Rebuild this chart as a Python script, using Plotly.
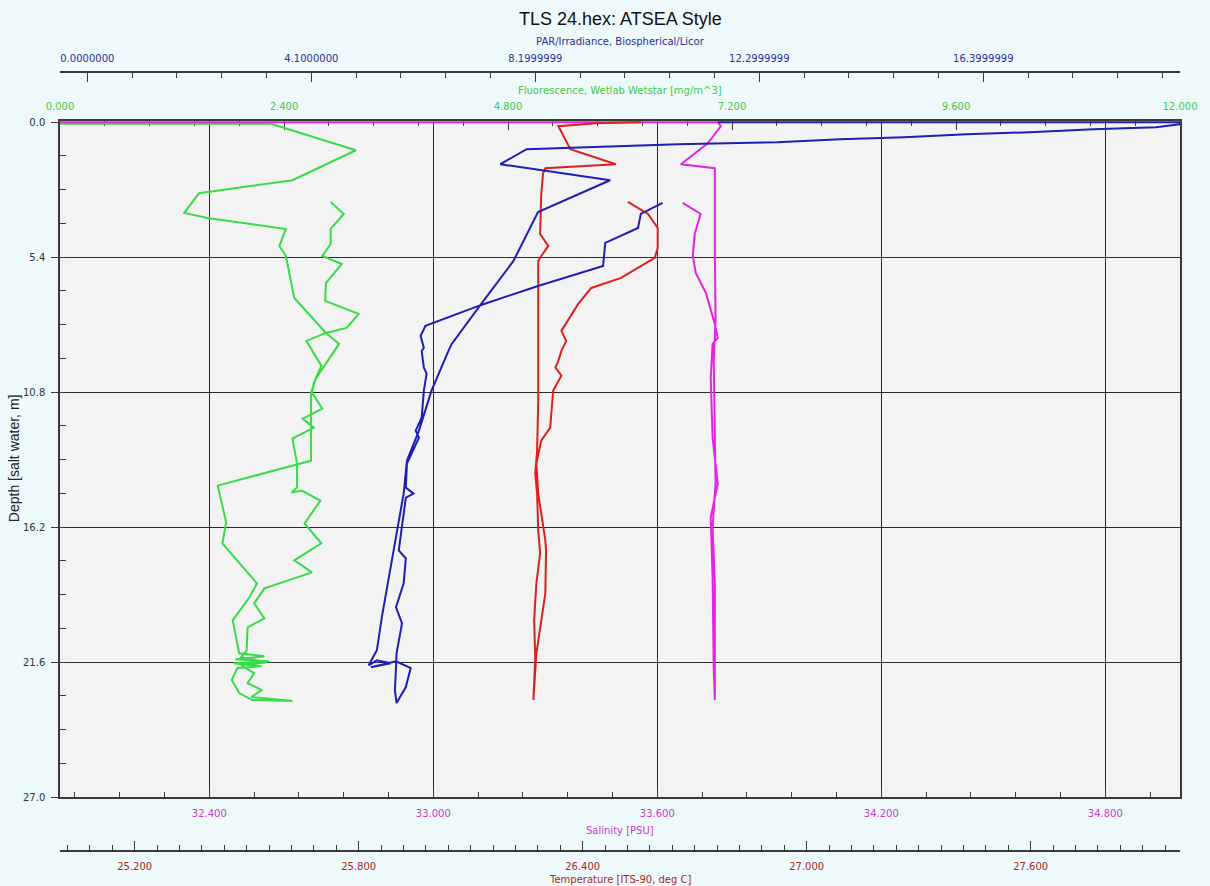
import plotly.graph_objects as go

# ---------------- data ----------------
# (depth [m], value) pairs, downcast then upcast
fluorescence = [
    (0.06, 0.00), (0.06, 2.26), (0.20, 2.38), (1.12, 3.17), (2.32, 2.49), (2.84, 1.49),
    (3.63, 1.33), (3.83, 1.58), (4.27, 2.42), (4.95, 2.35), (5.35, 2.42), (7.03, 2.51),
    (8.43, 2.85), (8.87, 2.99), (9.15, 2.94), (10.26, 2.74), (10.82, 2.69), (13.54, 2.69),
    (14.54, 1.69), (16.01, 1.78), (16.85, 1.74), (18.45, 2.11), (19.01, 2.03), (19.93, 1.85),
    (21.25, 1.92), (21.37, 2.19), (21.49, 1.88), (21.57, 2.24), (21.65, 1.86), (21.77, 2.16),
    (21.84, 1.90), (22.32, 1.84), (22.84, 1.92), (23.12, 2.06), (23.16, 2.49), (23.00, 2.05),
    (22.72, 2.16), (22.44, 2.01), (22.04, 2.08), (21.73, 1.94), (21.61, 2.22), (21.41, 1.94),
    (21.13, 2.00), (20.21, 2.01), (19.85, 2.19), (19.25, 2.08), (18.65, 2.19), (18.01, 2.70),
    (17.53, 2.51), (16.85, 2.80), (16.05, 2.62), (15.14, 2.79), (14.74, 2.59), (14.82, 2.48),
    (14.62, 2.54), (13.66, 2.54), (12.66, 2.49), (12.22, 2.72), (11.86, 2.60), (11.46, 2.81),
    (10.82, 2.70), (10.42, 2.72), (9.74, 2.80), (9.15, 2.70), (8.75, 2.64), (8.43, 2.85),
    (8.23, 3.07), (7.67, 3.20), (7.15, 2.84), (6.43, 2.85), (5.67, 3.02), (5.35, 2.81),
    (4.87, 2.90), (4.27, 2.90), (3.67, 3.04), (3.19, 2.90),
]

salinity = [
    (0.00, 32.000), (0.00, 33.762), (0.16, 33.770), (0.84, 33.735), (1.68, 33.663),
    (1.84, 33.754), (5.15, 33.754), (7.95, 33.756), (9.54, 33.751), (12.46, 33.754),
    (14.46, 33.756), (16.21, 33.748), (18.45, 33.754), (21.65, 33.754), (23.12, 33.754),
    (21.81, 33.751), (18.21, 33.748), (15.81, 33.743), (14.46, 33.762), (12.62, 33.748),
    (10.22, 33.743), (8.87, 33.748), (8.63, 33.762), (8.07, 33.754), (6.83, 33.730),
    (6.03, 33.703), (5.35, 33.695), (4.47, 33.700), (3.67, 33.716), (3.23, 33.668),
]

temperature = [
    (0.00, 26.556), (0.04, 26.436), (0.16, 26.335), (1.08, 26.367), (1.68, 26.489),
    (1.84, 26.300), (2.04, 26.294), (2.88, 26.289), (4.47, 26.286), (4.95, 26.308),
    (5.35, 26.289), (5.55, 26.281), (9.15, 26.281), (11.14, 26.281), (13.14, 26.278),
    (14.06, 26.273), (14.86, 26.278), (16.33, 26.281), (17.25, 26.286), (18.45, 26.276),
    (19.93, 26.270), (21.41, 26.273), (23.12, 26.268), (21.25, 26.276), (18.85, 26.300),
    (17.13, 26.302), (16.73, 26.300), (14.86, 26.281), (13.66, 26.276), (12.74, 26.289),
    (12.22, 26.313), (10.74, 26.321), (10.14, 26.343), (9.82, 26.327), (9.54, 26.335),
    (9.15, 26.343), (8.75, 26.356), (8.35, 26.343), (7.27, 26.388), (6.63, 26.423),
    (6.23, 26.503), (5.43, 26.593), (5.03, 26.601), (4.23, 26.601), (3.67, 26.575),
    (3.19, 26.521),
]

par = [
    (0.00, 11.54), (0.00, 20.00), (0.08, 20.00), (0.20, 19.56), (0.28, 18.41), (0.40, 17.25),
    (0.48, 16.10), (0.60, 14.95), (0.68, 13.78), (0.80, 12.63), (0.88, 10.81), (1.08, 8.04),
    (1.68, 7.56), (2.32, 9.57), (3.59, 8.25), (5.55, 7.80), (7.27, 7.21), (8.87, 6.67),
    (9.15, 6.61), (10.74, 6.30), (12.34, 6.07), (13.54, 5.85), (14.86, 5.79), (19.81, 5.39),
    (21.13, 5.30), (21.73, 5.15), (21.53, 5.30), (21.65, 5.55), (21.81, 5.19), (21.57, 5.65),
    (21.84, 5.92), (22.60, 5.83), (23.24, 5.66), (22.72, 5.63), (21.84, 5.65), (21.25, 5.66),
    (20.05, 5.76), (19.41, 5.65), (18.45, 5.79), (17.45, 5.83), (17.13, 5.70), (15.02, 5.83),
    (14.86, 5.97), (14.62, 5.83), (13.66, 5.85), (12.62, 6.07), (12.34, 6.01), (11.82, 6.12),
    (10.74, 6.16), (10.06, 6.21), (9.82, 6.16), (9.15, 6.12), (9.03, 6.16), (8.55, 6.10),
    (8.15, 6.19), (7.31, 7.21), (6.55, 8.25), (5.75, 9.44), (4.83, 9.48), (4.23, 10.08),
    (3.67, 10.13), (3.23, 10.53),
]

depth_ticks = [0.0, 5.4, 10.8, 16.2, 21.6, 27.0]
depth_labels = ["0.0", "5.4", "10.8", "16.2", "21.6", "27.0"]
fl_ticks = [0.0, 2.4, 4.8, 7.2, 9.6, 12.0]
fl_labels = ["0.000", "2.400", "4.800", "7.200", "9.600", "12.000"]
par_ticks = [0.0, 4.1, 8.2, 12.3, 16.4]
par_labels = ["0.0000000", "4.1000000", "8.1999999", "12.2999999", "16.3999999"]
sal_ticks = [32.4, 33.0, 33.6, 34.2, 34.8]
sal_labels = ["32.400", "33.000", "33.600", "34.200", "34.800"]
temp_ticks = [25.2, 25.8, 26.4, 27.0, 27.6]
temp_labels = ["25.200", "25.800", "26.400", "27.000", "27.600"]

# ---------------- styling ----------------
FONT = "Liberation Sans, Arial, sans-serif"
FONT_W = "DejaVu Sans, Verdana, sans-serif"
W, H = 1210, 886
M_L, M_R, M_T, M_B = 60, 26, 40, 30
AREA_H = H - M_T - M_B


def py(ypix):
    """paper y-fraction for a pixel row"""
    return (H - M_B - ypix) / AREA_H


C_GREEN, C_BLUE, C_RED, C_MAG = "#37DC48", "#1E1EB4", "#DC2020", "#E424E4"
AX = "#3a3a3a"

fig = go.Figure()


def add(series, color, xa):
    d = [p[0] for p in series]
    v = [p[1] for p in series]
    fig.add_trace(go.Scatter(x=v, y=d, mode="lines", xaxis=xa, yaxis="y",
                             line=dict(color=color, width=2), showlegend=False,
                             hoverinfo="skip"))


add(fluorescence, C_GREEN, "x")
add(salinity, C_MAG, "x2")
add(temperature, C_RED, "x3")
add(par, C_BLUE, "x4")


def xax(rng, tv, tt, color, dminor, t0, side, **kw):
    base = dict(range=rng, tickmode="array", tickvals=tv, ticktext=tt, side=side,
                ticks="inside", ticklen=9, tickcolor=AX, tickwidth=1,
                showline=True, linecolor=AX, linewidth=1.5, zeroline=False,
                showgrid=False, tickfont=dict(family=FONT_W, size=10, color=color),
                minor=dict(tickmode="linear", tick0=t0, dtick=dminor, ticks="inside",
                           ticklen=5, tickcolor=AX, tickwidth=1, showgrid=False),
                layer="below traces", fixedrange=True)
    base.update(kw)
    return base


fig.update_layout(
    width=W, height=H,
    margin=dict(l=M_L, r=M_R, t=M_T, b=M_B, pad=0),
    paper_bgcolor="#EEF9FB", plot_bgcolor="#F3F3F3",
    font=dict(family=FONT, size=11, color="#333"),
    xaxis=xax([0, 12], fl_ticks, fl_labels, "#44CC44", 0.48, 0, "top",
              anchor="y", domain=[0, 1], ticklabelstandoff=5),
    xaxis2=xax([32, 35], sal_ticks, sal_labels, "#C83CC8", 0.12, 32.04, "bottom",
               overlaying="x", anchor="y", showgrid=True, gridcolor="#2a2a2a",
               gridwidth=1, ticklabelstandoff=6),
    xaxis3=xax([25, 28], temp_ticks, temp_labels, "#A82828", 0.06, 25.2, "bottom",
               overlaying="x", anchor="free", position=py(851), ticklabelstandoff=6),
    xaxis4=xax([-0.5, 20], par_ticks, par_labels, "#2E2E96", 0.82, 0, "top",
               overlaying="x", anchor="free", position=py(72), ticklabelstandoff=5),
    yaxis=dict(range=[27, -0.05], domain=[py(797), py(121)], tickmode="array",
               tickvals=depth_ticks, ticktext=depth_labels, ticks="outside",
               ticklen=7, tickcolor=AX, showline=True, mirror=True, linecolor=AX,
               linewidth=1.5, zeroline=False, showgrid=True, gridcolor="#2a2a2a",
               gridwidth=1, tickfont=dict(family=FONT_W, size=10, color="#333"),
               ticklabelstandoff=4,
               minor=dict(tickmode="linear", tick0=0, dtick=1.35, ticks="inside",
                          ticklen=6, tickcolor=AX, showgrid=False),
               layer="below traces", fixedrange=True),
)

ann = [
    ("TLS 24.hex: ATSEA Style", 0.5, py(19), 18, "#111", 0, FONT),
    ("PAR/Irradiance, Biospherical/Licor", 0.5, py(42), 10, "#2E2E96", 0, FONT_W),
    ("Fluorescence, Wetlab Wetstar [mg/m^3]", 0.5, py(90), 10, "#44CC44", 0, FONT_W),
    ("Salinity [PSU]", 0.5, py(830), 10, "#C83CC8", 0, FONT_W),
    ("Temperature [ITS-90, deg C]", 0.5, py(880), 10, "#A82828", 0, FONT_W),
    ("Depth [salt water, m]", (14 - M_L) / (W - M_L - M_R), py(458), 14, "#222", -90, FONT),
]
for text, x, y, size, color, ang, fam in ann:
    fig.add_annotation(text=text, x=x, y=y, xref="paper", yref="paper",
                       xanchor="center", yanchor="middle", showarrow=False,
                       textangle=ang, font=dict(family=fam, size=size, color=color))

fig.write_html("out.html")
